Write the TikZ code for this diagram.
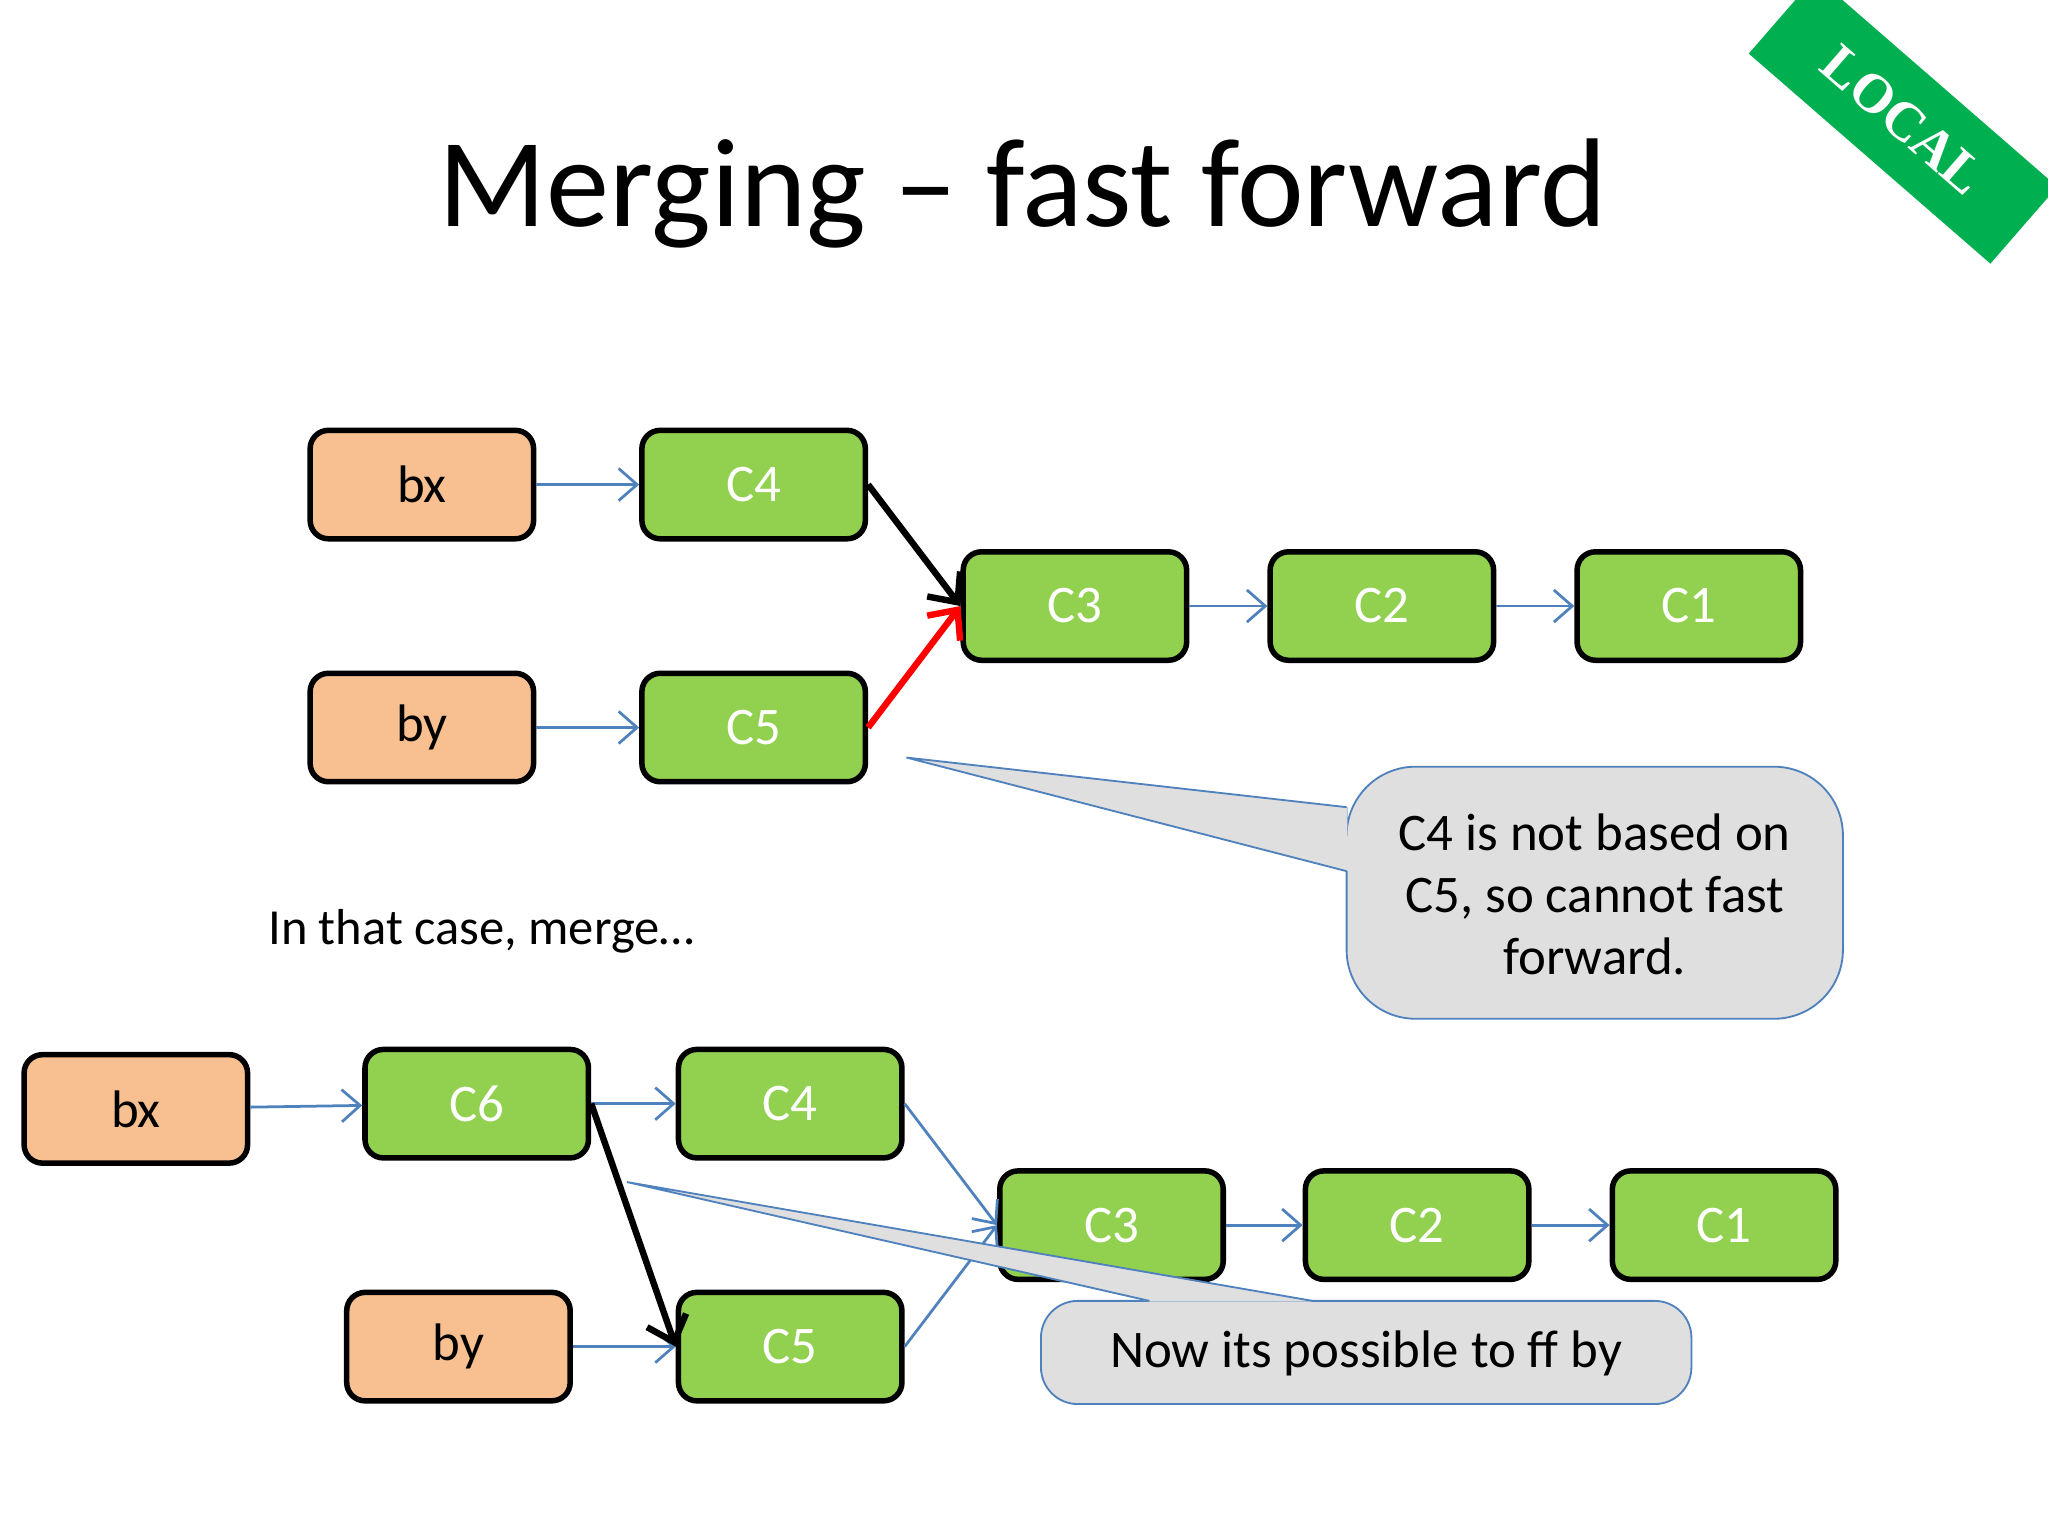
\documentclass[tikz,border=0pt]{standalone}
\usepackage{fontspec}
\setmainfont{Carlito}
\usetikzlibrary{arrows.meta}
\definecolor{peach}{HTML}{F8C090}
\definecolor{leaf}{HTML}{92D050}
\definecolor{badgegreen}{HTML}{00B050}
\definecolor{linkblue}{HTML}{4F81BD}
\begin{document}
\begin{tikzpicture}[x=0.01cm,y=-0.01cm,
	branch/.style={draw=black,line width=1.2pt,rounded corners=4pt,fill=peach,minimum width=1.71cm,minimum height=0.83cm,font=\fontsize{11.5}{14}\selectfont},
	commit/.style={draw=black,line width=1.2pt,rounded corners=4pt,fill=leaf,text=white,minimum width=1.71cm,minimum height=0.83cm,font=\fontsize{11.5}{14}\selectfont},
	link/.style={->,draw=linkblue,line width=0.6pt,>={Straight Barb[length=4pt,width=7pt]}},
	strong/.style={->,line width=1.4pt,>={Straight Barb[length=5pt,width=9pt]}},
	callout/.style={fill=gray!25,draw=linkblue,line width=0.4pt}]

	\useasboundingbox (0,0) rectangle (1568,1176);
	\begin{scope}
	\clip (0,0) rectangle (1568,1176);
	\node[fill=badgegreen,text=white,minimum width=2.45cm,minimum height=0.78cm,rotate=-41,font=\fontsize{12}{14}\selectfont\bfseries] (badge) at (1457,92) {\fontspec{Liberation Serif}LOCAL};
	\end{scope}

	\node (title) at (783,148) {\fontsize{27.5}{32}\selectfont Merging -- fast forward};

	% upper graph
	\node[branch] (bx1) at (323,371) {bx};
	\node[commit] (c41) at (577,371) {C4};
	\node[branch] (by1) at (323,557) {by};
	\node[commit] (c51) at (577,557) {C5};
	\node[commit] (c31) at (823,464) {C3};
	\node[commit] (c21) at (1058,464) {C2};
	\node[commit] (c11) at (1293,464) {C1};

	\draw[link] (bx1) -- (c41);
	\draw[link] (by1) -- (c51);
	\draw[link] (c31) -- (c21);
	\draw[link] (c21) -- (c11);
	\draw[strong] (c41.east) -- (c31.west);
	\draw[strong,red] (c51.east) -- (c31.west);

	\coordinate (tip1) at (694,580);
	\draw[callout,rounded corners=15pt] (1031,618) -- (1031,587) -- (1411,587) -- (1411,780) -- (1031,780) -- (1031,667);
	\fill[gray!25] (1031.5,618) -- (tip1) -- (1031.5,667) -- cycle;
	\draw[linkblue,line width=0.4pt] (1031,618) -- (tip1) -- (1031,667);
	\node[align=center,font=\fontsize{11.5}{13.5}\selectfont] (note1) at (1221,685) {C4 is not based on\\C5, so cannot fast\\forward.};

	\node[anchor=west,font=\fontsize{11}{13}\selectfont] (case) at (193,713) {In that case, merge\dots};

	% lower graph
	\node[branch] (bx2) at (104,849) {bx};
	\node[commit] (c6) at (365,845) {C6};
	\node[commit] (c42) at (605,845) {C4};
	\node[branch] (by2) at (351,1031) {by};
	\node[commit] (c52) at (605,1031) {C5};
	\node[commit] (c32) at (851,938) {C3};
	\node[commit] (c22) at (1085,938) {C2};
	\node[commit] (c12) at (1320,938) {C1};

	\draw[link] (bx2) -- (c6);
	\draw[link] (c6) -- (c42);
	\draw[link] (by2) -- (c52);
	\draw[link] (c42.east) -- (c32.west);
	\draw[link] (c52.east) -- (c32.west);
	\draw[link] (c32) -- (c22);
	\draw[link] (c22) -- (c12);
	\draw[strong] (c6.east) -- (c52.west);

	\coordinate (tip2) at (480,905);
	\draw[callout,rounded corners=8pt] (880,996) -- (1295,996) -- (1295,1075) -- (797,1075) -- (797,996) -- (880,996);
	\fill[gray!25] (880,996.5) -- (tip2) -- (1005,996.5) -- cycle;
	\draw[linkblue,line width=0.4pt] (880,996) -- (tip2) -- (1005,996);
	\node[font=\fontsize{11.5}{14}\selectfont] (note2) at (1046,1036) {Now its possible to ff by};
\end{tikzpicture}
\end{document}
